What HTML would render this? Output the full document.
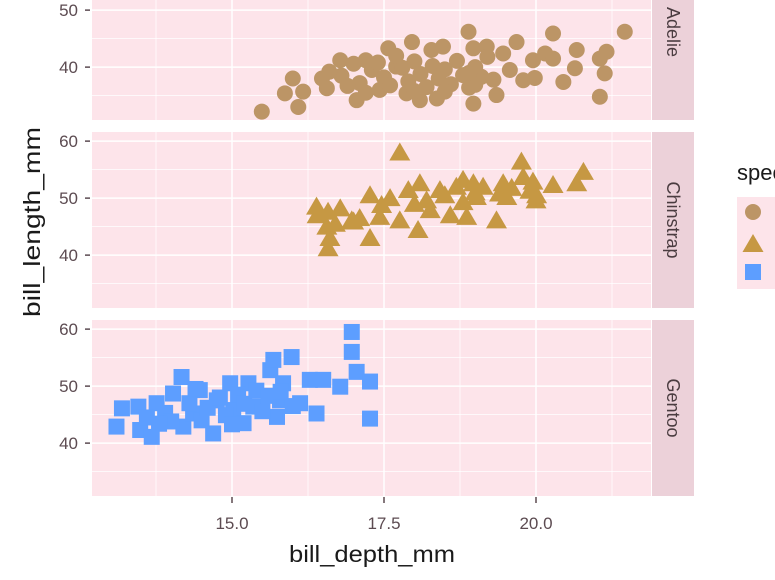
<!DOCTYPE html>
<html><head><meta charset="utf-8"><style>
body{margin:0;background:#fff;}
svg{display:block;font-family:"Liberation Sans",sans-serif;}
</style></head><body>
<svg id="chart" width="775" height="580" viewBox="0 0 775 580" xmlns="http://www.w3.org/2000/svg"></svg>
<script>
const species = ["Adelie","Chinstrap","Gentoo"];
const xTicks = [15.0,17.5,20.0];
const xTickLabels = ["15.0","17.5","20.0"];
const yTicks = [40,50,60];
const yTickLabels = ["40","50","60"];
const adelieDepth = [15.49,16.0,15.87,16.09,16.17,16.48,16.56,16.78,17.0,17.05,17.2,17.43,17.57,17.7,17.96,17.87,18.09,18.28,18.47,18.37,18.89,18.97,18.97,19.19,19.46,19.35,19.68,19.57,19.79,19.98,19.95,20.15,20.28,20.28,20.45,20.64,20.67,21.05,21.16,21.13,21.05,21.46,16.8,17.1,17.3,17.5,17.6,17.8,17.9,18.0,18.1,18.2,18.3,18.4,18.5,18.6,18.7,18.8,18.9,19.0,19.1,19.2,19.3,17.4,16.9,17.2,18.0,18.5,19.0,16.6,17.7,18.9];
const adelieLength = [32.2,38.0,35.4,33.0,35.7,38.0,36.3,41.2,40.6,34.2,41.2,36.0,43.3,40.1,44.4,35.4,34.2,43.0,43.6,34.5,46.2,33.6,43.3,43.6,42.4,35.1,44.4,39.5,37.7,38.1,41.2,42.4,41.5,45.9,37.4,39.8,43.0,41.5,42.7,38.9,34.8,46.2,38.5,37.2,39.5,38.2,36.8,39.9,37.5,41.0,38.8,36.5,40.2,38.0,39.6,37.0,41.1,38.6,36.4,40.0,38.3,41.8,37.8,40.8,36.7,35.5,35.8,35.7,36.9,39.2,42.0,39.0];
const chinDepth = [17.76,16.39,16.58,16.56,16.61,16.58,16.78,16.97,17.1,17.27,17.27,17.46,17.43,17.76,17.9,18.06,18.09,18.2,18.26,18.42,18.59,18.69,18.8,18.86,18.97,19.13,19.02,19.35,19.46,19.52,19.76,19.79,19.95,20.01,20.28,20.67,20.78,16.4,16.7,17.0,17.6,18.0,18.5,19.0,19.4,19.9,20.0,18.8,19.6];
const chinLength = [58.0,48.5,47.6,45.0,43.0,41.2,48.2,46.1,46.5,50.5,43.0,48.8,46.7,46.1,51.4,44.4,52.6,49.6,47.9,51.4,47.0,52.0,53.2,46.7,52.6,52.0,50.2,46.1,52.6,50.2,56.4,53.7,52.9,50.5,52.3,52.6,54.6,47.0,45.5,45.9,50.0,49.0,50.5,51.0,50.8,51.3,49.6,49.3,51.8];
const gentooDepth = [13.1,13.19,13.46,13.49,13.68,13.76,14.03,14.17,14.2,14.36,14.47,14.69,14.75,14.97,15.02,15.19,15.27,15.35,15.63,15.68,15.74,15.79,15.98,15.84,16.12,16.28,16.39,16.5,16.78,16.97,16.97,17.05,17.27,17.27,13.6,13.9,14.0,14.3,14.5,14.6,14.8,14.9,15.1,15.2,15.4,15.5,15.6,15.0,14.4,13.8,15.8,16.0];
const gentooLength = [42.9,46.1,46.4,42.3,41.1,47.0,48.7,51.6,42.9,45.2,49.3,41.7,47.5,50.5,45.8,43.5,50.5,46.4,52.8,54.6,44.6,47.5,55.1,50.5,47.0,51.1,45.2,51.1,49.9,59.5,56.0,52.5,50.8,44.3,44.5,45.3,43.8,47.0,44.0,46.2,48.0,44.9,48.5,46.9,49.2,45.6,48.3,43.3,49.5,43.4,49.0,46.5];

const NS="http://www.w3.org/2000/svg";
const svg=document.getElementById('chart');
function mk(t,a,p){const e=document.createElementNS(NS,t);for(const k in a)e.setAttribute(k,a[k]);(p||svg).appendChild(e);return e;}
const PX0=92,PX1=651;
const panelTops=[-56,132,320],PH=176;
function xs(v){return 232+(v-15)*60.8;}
function ys(v,i){return panelTops[i]+(61.6-v)*5.7;}
const colors=["#bc9566","#c69843","#5d9eff"];
const datasets=[[adelieDepth,adelieLength],[chinDepth,chinLength],[gentooDepth,gentooLength]];
const lbl='#5c4b51';

function shape(kind,x,y,g){
  let e;
  if(kind===0) e=mk('circle',{cx:x,cy:y,r:8,fill:colors[0]},g);
  else if(kind===1) e=mk('polygon',{points:`${x},${y-10} ${x+10.5},${y+8} ${x-10.5},${y+8}`,fill:colors[1]},g);
  else e=mk('rect',{x:x-8,y:y-8,width:16,height:16,fill:colors[2]},g);
  return e;
}

for(let i=0;i<3;i++){
  const g=mk('g',{});
  
  
  const t=panelTops[i];
  const bg=mk('rect',{x:PX0,y:t,width:PX1-PX0,height:PH,fill:'#fde4ea'},g);
  
  
  [13.75,16.25,18.75,21.25].forEach(v=>mk('line',{x1:xs(v),x2:xs(v),y1:t,y2:t+PH,stroke:'#fff',"stroke-width":0.7},g));
  [35,45,55].forEach(v=>mk('line',{x1:PX0,x2:PX1,y1:ys(v,i),y2:ys(v,i),stroke:'#fff',"stroke-width":0.7},g));
  xTicks.forEach(v=>mk('line',{x1:xs(v),x2:xs(v),y1:t,y2:t+PH,stroke:'#fff',"stroke-width":1.5},g));
  yTicks.forEach((v,j)=>{
    const y=ys(v,i);
    mk('line',{x1:PX0,x2:PX1,y1:y,y2:y,stroke:'#fff',"stroke-width":1.5},g);
    mk('line',{x1:85,x2:90,y1:y,y2:y,stroke:lbl,"stroke-width":1.5},g);
    const tl=mk('text',{x:78,y:y+6,"text-anchor":"end","font-size":17,fill:lbl},g);
    tl.textContent=yTickLabels[j];
    
    
  });
  const [dx,dy]=datasets[i];
  for(let k=0;k<dx.length;k++){
    const p=shape(i,xs(dx[k]),ys(dy[k],i),g);
    
    
  }
  const st=mk('rect',{x:652,y:t,width:42,height:PH,fill:'#ecd1d9'},g);
  
  
  const cy=t+PH/2;
  const lab=mk('text',{x:673,y:cy,transform:`rotate(90 673 ${cy})`,"text-anchor":"middle","dominant-baseline":"central","font-size":18,fill:'#4a3c40'},g);
  lab.textContent=species[i];
  
  
}
xTicks.forEach((v,j)=>{
  mk('line',{x1:xs(v),x2:xs(v),y1:497,y2:503,stroke:lbl,"stroke-width":1.5});
  const tl=mk('text',{x:xs(v),y:529,"text-anchor":"middle","font-size":17,fill:lbl});
  tl.textContent=xTickLabels[j];
  
  
});
const xt=mk('text',{x:372,y:562,"text-anchor":"middle","font-size":23,fill:'#1a1a1a',textLength:166,lengthAdjust:'spacingAndGlyphs'});
xt.textContent='bill_depth_mm';


const yt=mk('text',{x:40,y:222,transform:'rotate(-90 40 222)',"text-anchor":"middle","font-size":23,fill:'#1a1a1a',textLength:190,lengthAdjust:'spacingAndGlyphs'});
yt.textContent='bill_length_mm';


const lg=mk('g',{});


const ltitle=mk('text',{x:737,y:180,"font-size":22,fill:'#1a1a1a'},lg);
ltitle.textContent='species';


mk('rect',{x:737,y:197,width:60,height:92,fill:'#fde4ea'},lg);
[212,244,272].forEach((y,i)=>{
  const e=shape(i,753,y,lg);
  
  
});
</script>
</body></html>
